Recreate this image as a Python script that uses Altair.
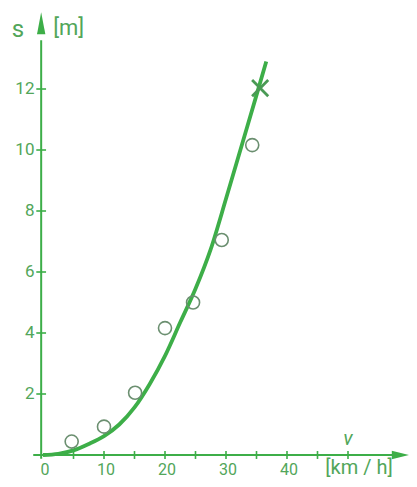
import altair as alt
import pandas as pd

# ---- data ----
curve_v = [0, 2.5, 5, 7.5, 10, 12.5, 15, 17.5, 20, 22.5, 25, 27.5, 30, 32.5, 35, 36.6]
curve_s = [0, 0.04, 0.15, 0.36, 0.62, 1.0, 1.56, 2.33, 3.25, 4.35, 5.45, 6.75, 8.4, 10.1, 11.8, 12.9]
meas_v = [4.7, 10.0, 15.1, 20.0, 24.6, 29.3, 34.3]
meas_s = [0.44, 0.93, 2.04, 4.16, 5.0, 7.05, 10.16]
cross_v = [35.6]
cross_s = [12.03]
x_tick_vals = [5, 10, 15, 20, 25, 30, 35, 40, 45, 50]
x_label_vals = [0, 10, 20, 30, 40]
y_tick_vals = [2, 4, 6, 8, 10, 12]

GREEN = "#3dae48"
TEXT = "#52a65a"
GREY = "#6b8f70"
FONT = "Roboto"

W, H = 401, 471
xs = alt.Scale(domain=[-5.738, 60.0], nice=False, zero=False)
ys = alt.Scale(domain=[-0.787, 14.656], nice=False, zero=False)
AX = -0.3  # position of vertical axis line


def X(f="x"):
    return alt.X(f"{f}:Q", scale=xs, axis=None)


def Y(f="y"):
    return alt.Y(f"{f}:Q", scale=ys, axis=None)


curve = alt.Chart(pd.DataFrame({"x": curve_v, "y": curve_s})).mark_line(
    color=GREEN, strokeWidth=3.8, interpolate="monotone"
).encode(x=X(), y=Y())

meas = alt.Chart(pd.DataFrame({"x": meas_v, "y": meas_s})).mark_point(
    shape="circle", filled=False, size=170, color=GREY, strokeWidth=1.6, opacity=1
).encode(x=X(), y=Y())

cross = alt.Chart(pd.DataFrame({"x": cross_v, "y": cross_s})).mark_point(
    shape="M -1 -1 L 1 1 M -1 1 L 1 -1", filled=False, size=260, color="#4a9a55",
    strokeWidth=2.8, opacity=1
).encode(x=X(), y=Y())

# axis lines
xaxis = alt.Chart(pd.DataFrame({"x": [-1.6], "x2": [57.3], "y": [0]})).mark_rule(
    color=GREEN, strokeWidth=2
).encode(x=X(), x2="x2:Q", y=Y())
yaxis = alt.Chart(pd.DataFrame({"x": [AX], "y": [-0.12], "y2": [13.6]})).mark_rule(
    color=GREEN, strokeWidth=2
).encode(x=X(), y=Y(), y2="y2:Q")

# arrows
xarrow = alt.Chart(pd.DataFrame({"x": [58.6], "y": [0]})).mark_point(
    shape="M 1 0 L -1 -0.5 L -1 0.5 Z", filled=True, size=300, color=GREEN, opacity=1
).encode(x=X(), y=Y())
yarrow = alt.Chart(pd.DataFrame({"x": [AX], "y": [14.16]})).mark_point(
    shape="M 0 -1 L -0.38 1 L 0.38 1 Z", filled=True, size=484, color=GREEN, opacity=1
).encode(x=X(), y=Y())

# ticks
xt = pd.DataFrame({"x": x_tick_vals})
xt["y"] = -0.13
xt["y2"] = 0.13
xticks = alt.Chart(xt).mark_rule(color=GREEN, strokeWidth=1.6).encode(
    x=X(), y=Y(), y2="y2:Q")

yt = pd.DataFrame({"y": y_tick_vals})
yt["x"] = AX - 0.8
yt["x2"] = AX + 0.8
yticks = alt.Chart(yt).mark_rule(color=GREEN, strokeWidth=1.6).encode(
    x=X(), x2="x2:Q", y=Y())

# tick labels
xl = pd.DataFrame({"x": x_label_vals, "t": [str(v) for v in x_label_vals]})
xl["y"] = -0.48
xlabels = alt.Chart(xl).mark_text(
    font=FONT, fontSize=16, color=TEXT, align="center", baseline="middle", dx=2
).encode(x=X(), y=Y(), text="t:N")

yl = pd.DataFrame({"y": y_tick_vals, "t": [str(v) for v in y_tick_vals]})
yl["x"] = AX - 1.1
ylabels = alt.Chart(yl).mark_text(
    font=FONT, fontSize=17, color=TEXT, align="right", baseline="middle"
).encode(x=X(), y=Y(), text="t:N")

# axis titles / units
titles = pd.DataFrame({
    "x": [-4.1, 4.2, 50.0, 51.8],
    "y": [13.93, 14.0, 0.52, -0.42],
    "t": ["s", "[m]", "v", "[km / h]"],
})
title_s = alt.Chart(titles.iloc[[0]]).mark_text(
    font=FONT, fontSize=24, color=TEXT, align="center", baseline="middle"
).encode(x=X(), y=Y(), text="t:N")
title_m = alt.Chart(titles.iloc[[1]]).mark_text(
    font=FONT, fontSize=22, color=TEXT, align="center", baseline="middle"
).encode(x=X(), y=Y(), text="t:N")
title_v = alt.Chart(titles.iloc[[2]]).mark_text(
    font=FONT, fontSize=20, color=TEXT, align="center", baseline="middle",
    fontStyle="italic"
).encode(x=X(), y=Y(), text="t:N")
title_kmh = alt.Chart(titles.iloc[[3]]).mark_text(
    font=FONT, fontSize=20, color=TEXT, align="center", baseline="middle"
).encode(x=X(), y=Y(), text="t:N")

chart = alt.layer(
    xaxis, yaxis, xarrow, yarrow, xticks, yticks, xlabels, ylabels,
    title_s, title_m, title_v, title_kmh, curve, meas, cross
).properties(
    width=W, height=H, autosize=alt.AutoSizeParams(type="none"), padding=0
).configure_view(stroke=None)

chart.save("out.html", embed_options={"renderer": "svg", "actions": False})
